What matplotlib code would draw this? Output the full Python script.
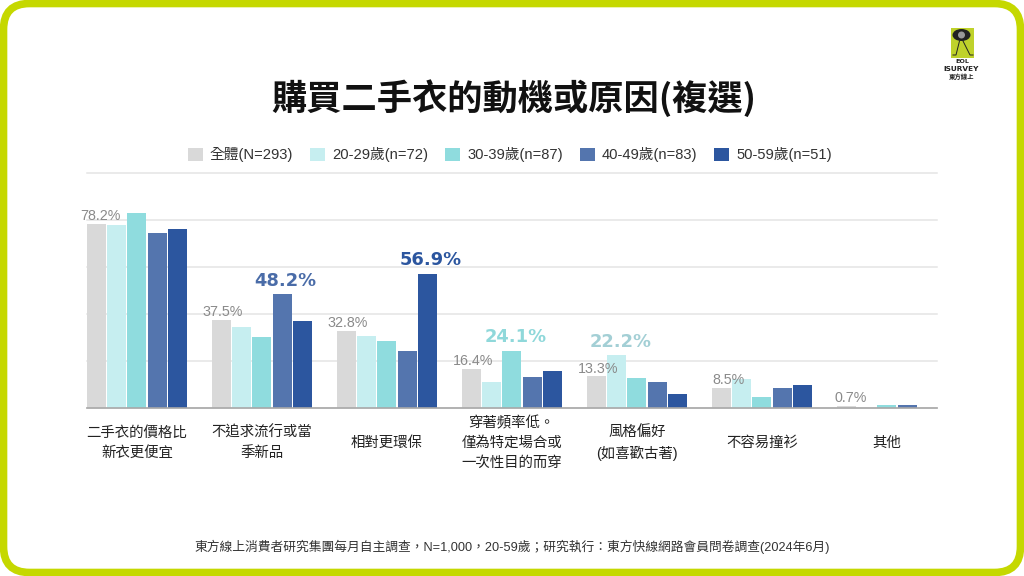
import matplotlib
matplotlib.use("Agg")
import matplotlib.pyplot as plt
from matplotlib.patches import FancyBboxPatch, Rectangle, Ellipse
from matplotlib.lines import Line2D
import numpy as np

plt.rcParams['font.family'] = ['Liberation Sans', 'Noto Sans CJK TC', 'DejaVu Sans']

categories = ['二手衣的價格比\n新衣更便宜', '不追求流行或當\n季新品', '相對更環保',
              '穿著頻率低。\n僅為特定場合或\n一次性目的而穿', '風格偏好\n(如喜歡古著)', '不容易撞衫', '其他']
series_names = ['全體(N=293)', '20-29歲(n=72)', '30-39歲(n=87)', '40-49歲(n=83)', '50-59歲(n=51)']
overall = [78.2, 37.5, 32.8, 16.4, 13.3, 8.5, 0.7]
age_20s = [77.7, 34.4, 30.5, 10.9, 22.2, 12.3, 0.0]
age_30s = [82.8, 29.9, 28.5, 24.1, 12.4, 4.5, 1.0]
age_40s = [74.6, 48.2, 24.0, 13.1, 10.7, 8.3, 1.2]
age_50s = [76.3, 37.1, 56.9, 15.5, 5.8, 9.7, 0.0]
all_series = [overall, age_20s, age_30s, age_40s, age_50s]
colors = ['#D9D9D9', '#C6EEF0', '#8FDCDE', '#5475AE', '#2C569F']
title = '購買二手衣的動機或原因(複選)'
footer = '東方線上消費者研究集團每月自主調查，N=1,000，20-59歲；研究執行：東方快線網路會員問卷調查(2024年6月)'
highlights = [(1, 3, '#4A6CA8'), (2, 4, '#2C569F'), (3, 2, '#8FD8DA'), (4, 1, '#A3CFD5')]
overall_label_dx = [2.5, 0.7, 1.1, 1.1, 1.5, 4.7, 3.2]

W, H = 1024, 576
fig = plt.figure(figsize=(W / 100, H / 100), dpi=100, facecolor='white')

def fx(px): return px / W
def fy(py): return 1 - py / H

ax = fig.add_axes([fx(87), fy(407.5), fx(850), (407.5 - 173) / H])
ax.set_ylim(0, 100)
ax.set_xlim(-0.399, 6.401)
pitch, bw = 0.1616, 0.152
x = np.arange(len(categories))
for i, (vals, c, n) in enumerate(zip(all_series, colors, series_names)):
    ax.bar(x + (i - 2) * pitch, vals, width=bw, color=c, label=n, zorder=3)

ax.set_yticks([0, 20, 40, 60, 80, 100])
ax.tick_params(axis='y', length=0, labelleft=False)
ax.tick_params(axis='x', length=0, pad=25.5, labelsize=10.4, labelcolor='#222222')
ax.set_xticks(x)
ax.set_xticklabels(categories, linespacing=1.52, va='center')
ax.grid(axis='y', color='#E4E4E4', lw=1.1, zorder=0, clip_on=False)
ax.set_axisbelow(True)
for s in ['top', 'left', 'right']:
    ax.spines[s].set_visible(False)
ax.spines['bottom'].set_color('#A8A8A8')
ax.spines['bottom'].set_linewidth(1.2)
ax.spines['bottom'].set_zorder(5)

for i, v in enumerate(overall):
    ax.annotate(f'{v}%', (i - 2 * pitch, v), xytext=(overall_label_dx[i], 0.5), textcoords='offset points',
                ha='center', va='bottom', fontsize=10.3, color='#8A8A8A', zorder=6)
for g, s, c in highlights:
    v = all_series[s][g]
    ax.annotate(f'{v}%', (g + (s - 2) * pitch, v), xytext=(2.5, 3.5), textcoords='offset points',
                ha='center', va='bottom', fontsize=12.9, fontweight='bold', color=c, zorder=6,
                family=['DejaVu Sans'])

handles = [Rectangle((0, 0), 1, 1, fc=c, ec='none') for c in colors]
fig.legend(handles, series_names, loc='center', bbox_to_anchor=(fx(510), fy(155)), ncol=5,
           frameon=False, fontsize=10.6, handlelength=1.02, handleheight=1.02, handletextpad=0.48,
           columnspacing=1.15, labelcolor='#333333', borderpad=0)

fig.text(fx(513.5), fy(98), title, ha='center', va='center', fontsize=25.4, fontweight='bold', color='#111111',
         family=['Noto Sans CJK TC'])
fig.text(fx(512), fy(547), footer, ha='center', va='center', fontsize=9.2, color='#333333')

lax = fig.add_axes([0, 0, 1, 1], facecolor='none', zorder=10)
lax.set_xlim(0, W); lax.set_ylim(H, 0); lax.axis('off')
lax.add_patch(FancyBboxPatch((3.5, 3.5), W - 7, H - 7, boxstyle='round,pad=0,rounding_size=26',
                             fc='none', ec='#C5D800', lw=5.5))
lax.add_patch(Rectangle((950.5, 27.5), 23.5, 30, fc='#BFD22B', ec='none'))
lax.add_patch(Ellipse((961.5, 35), 18, 12, fc='#222222', ec='none'))
lax.add_patch(Ellipse((961.5, 35), 7, 7, fc='#999999', ec='none'))
lax.add_line(Line2D([959.5, 956, 953], [41, 55, 55], color='#222222', lw=0.7))
lax.add_line(Line2D([963, 970, 973], [41, 55, 55], color='#222222', lw=0.7))
lax.text(962, 61.6, 'EOL', ha='center', va='center', fontsize=4.6, fontweight='bold', color='#222222', family=['DejaVu Sans'])
lax.text(961.5, 69.4, 'ISURVEY', ha='center', va='center', fontsize=5.3, fontweight='bold', color='#222222', family=['DejaVu Sans'])
lax.text(961.5, 77, '東方線上', ha='center', va='center', fontsize=4.6, fontweight='bold', color='#222222', family=['Noto Sans CJK TC'])

fig.savefig('out.png', dpi=100, facecolor='white')
